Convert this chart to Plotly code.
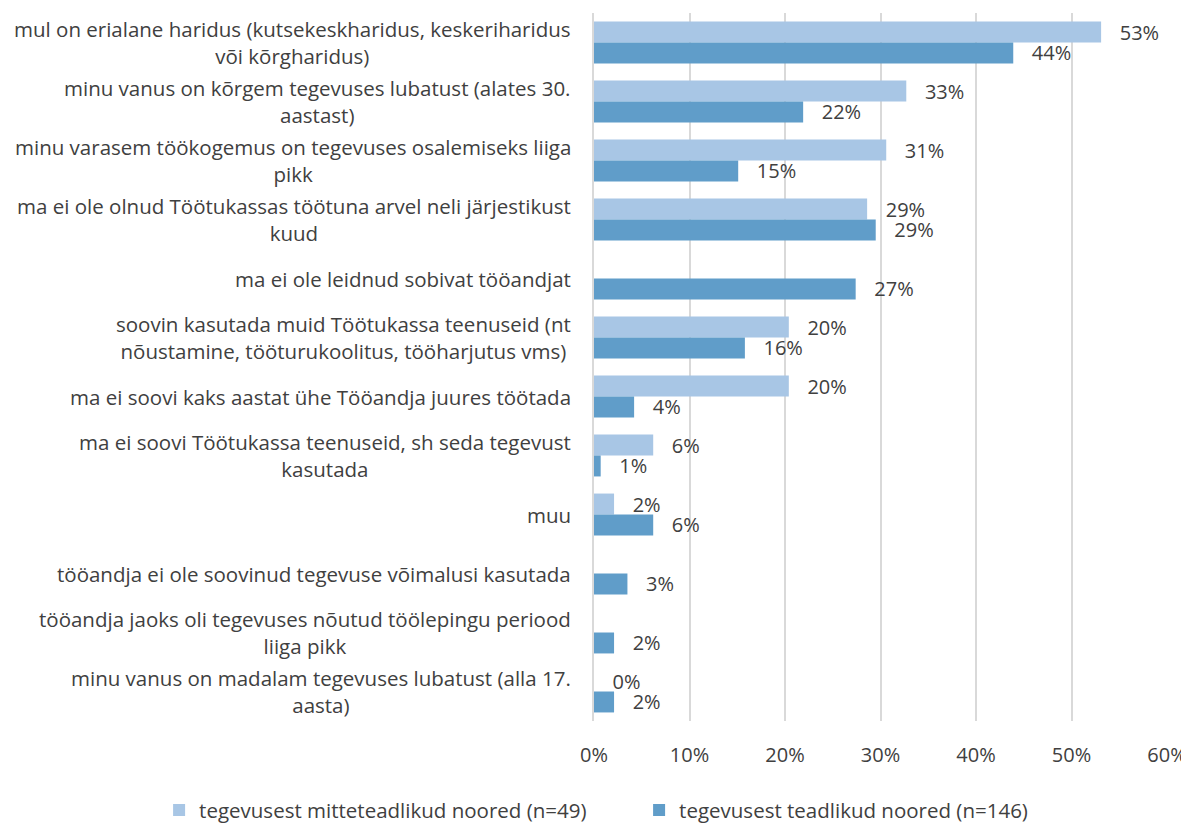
import plotly.graph_objects as go

categories = [
    "mul on erialane haridus (kutsekeskharidus, keskeriharidus<br>või kõrgharidus)",
    "minu vanus on kõrgem tegevuses lubatust (alates 30.<br>aastast)",
    "minu varasem töökogemus on tegevuses osalemiseks liiga<br>pikk",
    "ma ei ole olnud Töötukassas töötuna arvel neli järjestikust<br>kuud",
    "ma ei ole leidnud sobivat tööandjat",
    "soovin kasutada muid Töötukassa teenuseid (nt<br>nõustamine, tööturukoolitus, tööharjutus vms)",
    "ma ei soovi kaks aastat ühe Tööandja juures töötada",
    "ma ei soovi Töötukassa teenuseid, sh seda tegevust<br>kasutada",
    "muu",
    "tööandja ei ole soovinud tegevuse võimalusi kasutada",
    "tööandja jaoks oli tegevuses nõutud töölepingu periood<br>liiga pikk",
    "minu vanus on madalam tegevuses lubatust (alla 17.<br>aasta)",
]

unaware_name = "tegevusest mitteteadlikud noored (n=49)"
aware_name = "tegevusest teadlikud noored (n=146)"

# rounded label values
unaware = [0.53, 0.33, 0.31, 0.29, None, 0.20, 0.20, 0.06, 0.02, None, None, 0.00]
aware = [0.44, 0.22, 0.15, 0.29, 0.27, 0.16, 0.04, 0.01, 0.06, 0.03, 0.02, 0.02]

# bar lengths
unaware_len = [0.531, 0.327, 0.306, 0.286, None, 0.204, 0.204, 0.062, 0.021, None, None, 0.0]
aware_len = [0.439, 0.219, 0.151, 0.295, 0.274, 0.158, 0.042, 0.007, 0.062, 0.035, 0.021, 0.021]

x_ticks = [0, 0.1, 0.2, 0.3, 0.4, 0.5, 0.6]
x_tick_labels = ["0%", "10%", "20%", "30%", "40%", "50%", "60%"]

LIGHT = "#A8C6E5"
DARK = "#609DC9"
TXT = "#404040"
FONT = "Open Sans"

def labels(vals):
    return [None if v is None else "\u00a0\u00a0\u00a0" + f"{round(v*100)}%" for v in vals]

fig = go.Figure()
fig.add_trace(go.Bar(
    y=categories, x=unaware_len, orientation="h", name=unaware_name,
    marker=dict(color=LIGHT, line=dict(width=0)),
    text=labels(unaware), textposition="outside", cliponaxis=False,
    textfont=dict(color=TXT, size=20, family=FONT), constraintext="none",
    hoverinfo="skip",
))
fig.add_trace(go.Bar(
    y=categories, x=aware_len, orientation="h", name=aware_name,
    marker=dict(color=DARK, line=dict(width=0)),
    text=labels(aware), textposition="outside", cliponaxis=False,
    textfont=dict(color=TXT, size=20, family=FONT), constraintext="none",
    hoverinfo="skip",
))

for c in categories:
    fig.add_annotation(
        x=0, xref="paper", y=c, yref="y", xanchor="right", yanchor="middle",
        xshift=-21, text=c, showarrow=False, align="center",
        font=dict(color=TXT, size=20.5, family=FONT),
    )

# the page body has an 8px margin; the figure is sized to fill the window after it
fig.update_layout(
    width=1181, height=815,
    margin=dict(l=586, r=22, t=5, b=102, autoexpand=False),
    paper_bgcolor="white", plot_bgcolor="white",
    barmode="group", bargap=0.29, bargroupgap=0,
    font=dict(family=FONT, color=TXT),
    showlegend=True,
    legend=dict(
        orientation="h", xref="paper", yref="paper",
        x=-0.759, xanchor="left", y=-0.126, yanchor="middle",
        font=dict(size=20.5, color=TXT, family=FONT),
        traceorder="normal", entrywidth=435, entrywidthmode="pixels",
    ),
    xaxis=dict(
        range=[0, 0.6], tickvals=x_ticks, ticktext=x_tick_labels,
        showgrid=True, gridcolor="#D9D9D9", gridwidth=2,
        zeroline=False, showline=False, ticks="", automargin=False,
        tickfont=dict(size=20, color=TXT, family=FONT), ticklabelstandoff=20,
    ),
    yaxis=dict(
        categoryorder="array", categoryarray=categories, autorange="reversed",
        showticklabels=False, showgrid=False, zeroline=False, automargin=False,
        showline=True, linecolor="#D9D9D9", linewidth=2, ticks="",
    ),
)

fig.write_html("out.html")
